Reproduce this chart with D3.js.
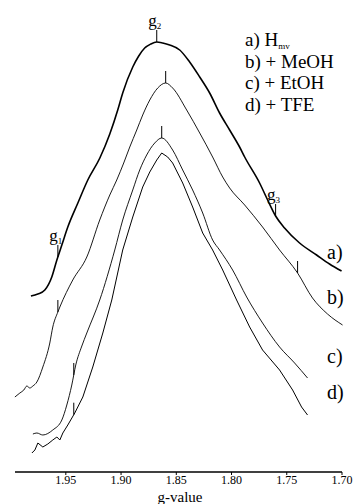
<!DOCTYPE html>
<html><head><meta charset="utf-8">
<script src="https://cdn.jsdelivr.net/npm/d3@7"></script>
<style>
html,body{margin:0;padding:0;background:#fff;}
svg{display:block;}
svg text{font-family:"Liberation Serif","Times New Roman",Times,serif;}
</style></head>
<body><div id="chart"></div>
<script>
// g-value vs. EPR intensity (arbitrary units, offset traces)
const curveA = [[1.9816,176],[1.9753,178],[1.9690,182],[1.9627,195],[1.9581,212],[1.9536,227],[1.9482,245],[1.9391,269],[1.9301,292],[1.9192,314],[1.9102,338],[1.9030,362],[1.8985,379],[1.8894,405],[1.8840,416],[1.8786,424],[1.8731,428],[1.8677,430],[1.8623,429],[1.8560,427],[1.8469,422],[1.8379,410],[1.8288,395],[1.8198,379],[1.8108,359],[1.8017,342],[1.7927,325],[1.7881,315],[1.7746,289],[1.7673,272],[1.7601,256],[1.7520,244],[1.7384,229],[1.7230,217],[1.7113,208],[1.7004,201]];
const curveB = [[1.9961,75],[1.9916,79],[1.9880,82],[1.9853,86],[1.9826,84],[1.9798,86],[1.9762,90],[1.9708,105],[1.9645,129],[1.9618,145],[1.9572,160],[1.9554,165],[1.9437,192],[1.9310,215],[1.9193,252],[1.9102,277],[1.9039,292],[1.8976,309],[1.8921,325],[1.8858,342],[1.8804,357],[1.8740,372],[1.8668,384],[1.8596,389],[1.8533,384],[1.8406,362],[1.8288,339],[1.8171,315],[1.8080,295],[1.8017,284],[1.7881,267],[1.7719,245],[1.7565,222],[1.7402,199],[1.7267,174],[1.7131,158],[1.6995,147]];
const curveC = [[1.9798,38],[1.9762,39],[1.9708,37],[1.9618,42],[1.9536,52],[1.9491,67],[1.9446,87],[1.9410,107],[1.9355,126],[1.9310,139],[1.9193,172],[1.9057,222],[1.8985,252],[1.8894,282],[1.8831,302],[1.8768,317],[1.8695,329],[1.8632,334],[1.8533,322],[1.8442,302],[1.8352,282],[1.8261,259],[1.8171,232],[1.8108,222],[1.7990,202],[1.7863,175],[1.7719,149],[1.7565,125],[1.7429,109],[1.7312,94]];
const curveD = [[1.9807,19],[1.9780,22],[1.9753,29],[1.9708,25],[1.9663,28],[1.9618,32],[1.9581,35],[1.9554,32],[1.9527,39],[1.9482,47],[1.9419,59],[1.9346,75],[1.9256,105],[1.9165,139],[1.9084,172],[1.8985,222],[1.8894,255],[1.8804,285],[1.8740,300],[1.8677,312],[1.8632,319],[1.8578,315],[1.8533,309],[1.8442,289],[1.8352,265],[1.8261,239],[1.8171,222],[1.8080,202],[1.7954,172],[1.7836,145],[1.7719,122],[1.7565,102],[1.7447,82],[1.7366,65],[1.7312,57]];

// g-marker positions per trace
const marksA = [1.9572, 1.8677, 1.7601];
const marksB = [1.9572, 1.8596, 1.7402];
const marksC = [1.9428, 1.8632];
const marksD = [1.9428];

const xTicks = [1.95, 1.90, 1.85, 1.80, 1.75, 1.70];
const traceLabels = ["a)", "b)", "c)", "d)"];
const legendLines = [["a) H", "mv"], ["b) + MeOH", ""], ["c) + EtOH", ""], ["d) + TFE", ""]];
const markLabels = [["g", "1", 1.9572], ["g", "2", 1.8677], ["g", "3", 1.7601]];

const W = 355, H = 504;
const FONT = "'Liberation Serif', 'Times New Roman', Times, serif";
const svg = d3.select("#chart").append("svg").attr("width", W).attr("height", H);

const x = d3.scaleLinear().domain([1.996, 1.70]).range([15, 342]);
const y = d3.scaleLinear().domain([0, 472]).range([472, 0]);

const series = [
  {data: curveA, w: 1.6, marks: marksA, curve: d3.curveMonotoneX},
  {data: curveB, w: 0.9, marks: marksB, curve: d3.curveMonotoneX},
  {data: curveC, w: 0.9, marks: marksC, curve: d3.curveMonotoneX},
  {data: curveD, w: 1.0, marks: marksD, curve: d3.curveLinear}
];

function interp(data, g) {
  for (let i = 0; i < data.length - 1; i++) {
    const [g0, v0] = data[i], [g1, v1] = data[i+1];
    if ((g <= g0 && g >= g1)) return v0 + (v1 - v0) * (g - g0) / (g1 - g0);
  }
  return data[0][1];
}

series.forEach(s => {
  const line = d3.line().x(d => x(d[0])).y(d => y(d[1])).curve(s.curve);
  svg.append("path").attr("d", line(s.data)).attr("fill", "none")
    .attr("stroke", "#000").attr("stroke-width", s.w).attr("stroke-linejoin", "round");
  s.marks.forEach(g => {
    const v = interp(s.data, g);
    svg.append("line").attr("x1", x(g)).attr("x2", x(g))
      .attr("y1", y(v)).attr("y2", y(v) - 12)
      .attr("stroke", "#000").attr("stroke-width", 1);
  });
});

// g labels
markLabels.forEach(([t, sub, g]) => {
  const v = interp(curveA, g);
  const tx = svg.append("text").attr("x", x(g) - 2).attr("y", y(v) - 16)
    .attr("text-anchor", "middle").attr("font-size", 17).attr("font-family", FONT);
  tx.append("tspan").text(t);
  tx.append("tspan").attr("font-size", 9).attr("dy", 3).text(sub);
});

// legend
legendLines.forEach((l, i) => {
  const t = svg.append("text").attr("x", 245).attr("y", 46 + i * 21.5)
    .attr("font-size", 19).attr("font-family", FONT);
  t.append("tspan").text(l[0]);
  if (l[1]) t.append("tspan").attr("font-size", 9).attr("dy", 3).text(l[1]);
});

// trace labels
const labelY = [259, 304, 363, 399];
traceLabels.forEach((l, i) => {
  svg.append("text").attr("x", 327).attr("y", labelY[i]).attr("font-size", 20)
    .attr("font-family", FONT).text(l);
});

// x axis
const axisY = 472;
svg.append("line").attr("x1", x(1.996)).attr("x2", x(1.70)).attr("y1", axisY).attr("y2", axisY)
  .attr("stroke", "#000").attr("stroke-width", 1.5);
xTicks.forEach(t => {
  svg.append("line").attr("x1", x(t)).attr("x2", x(t)).attr("y1", axisY).attr("y2", axisY + 3)
    .attr("stroke", "#000").attr("stroke-width", 1);
  svg.append("text").attr("x", x(t)).attr("y", 484).attr("text-anchor", "middle")
    .attr("font-size", 12).attr("font-family", FONT).text(t.toFixed(2));
});
svg.append("text").attr("x", 180).attr("y", 502).attr("text-anchor", "middle")
  .attr("font-size", 15).attr("font-family", FONT).text("g-value");
</script></body></html>
